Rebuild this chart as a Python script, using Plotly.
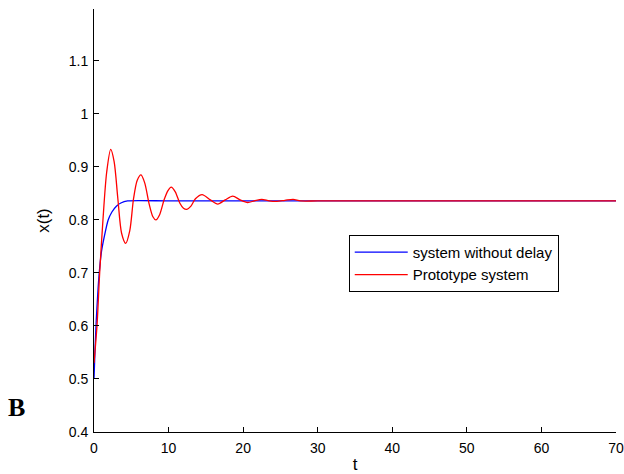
import plotly.graph_objects as go

# Response of the reduced (no-delay) model
t_nodelay = [0.0, 0.15, 0.3, 0.5, 0.7, 1.0, 1.4, 1.9, 2.4, 3.0, 3.6, 4.5, 10.0, 30.0, 50.0, 70.0]
x_nodelay = [0.50, 0.56, 0.61, 0.66, 0.70, 0.74, 0.77, 0.80, 0.815, 0.826, 0.832, 0.836, 0.836, 0.836, 0.836, 0.836]

# Response of the prototype system (damped oscillation)
t_proto = [0.0, 0.4, 0.76, 1.2, 1.7, 2.24, 2.7, 3.2, 3.7, 4.25, 4.8, 5.3, 5.8, 6.3, 6.8,
           7.4, 7.9, 8.3, 8.8, 9.4, 9.9, 10.35, 10.9, 11.5, 12.0, 12.45, 13.0, 13.6,
           14.5, 15.6, 16.6, 17.6, 18.6, 19.6, 20.6, 21.5, 22.5, 23.5, 24.5, 25.6,
           26.7, 27.7, 30.0, 40.0, 50.0, 60.0, 70.0]
x_proto = [0.53, 0.60, 0.70, 0.80, 0.89, 0.933, 0.91, 0.84, 0.775, 0.756, 0.78, 0.84, 0.875,
           0.885, 0.87, 0.83, 0.806, 0.800, 0.810, 0.838, 0.855, 0.862, 0.853, 0.832,
           0.822, 0.820, 0.826, 0.840, 0.848, 0.838, 0.830, 0.838, 0.845, 0.838, 0.833,
           0.836, 0.839, 0.836, 0.835, 0.837, 0.839, 0.836, 0.836, 0.836, 0.836, 0.836, 0.836]

x_ticks = [0, 10, 20, 30, 40, 50, 60, 70]
y_ticks = [0.4, 0.5, 0.6, 0.7, 0.8, 0.9, 1.0, 1.1]
y_tick_text = ["0.4", "0.5", "0.6", "0.7", "0.8", "0.9", "1", "1.1"]

font_family = "Liberation Sans, Arial, sans-serif"

fig = go.Figure()
fig.add_trace(go.Scatter(x=t_nodelay, y=x_nodelay, mode="lines", name="system without delay",
                         line=dict(color="#0000ff", width=1.3, shape="spline", smoothing=0.6)))
fig.add_trace(go.Scatter(x=t_proto, y=x_proto, mode="lines", name="Prototype system",
                         line=dict(color="#ff0000", width=1.3, shape="spline", smoothing=0.8)))

fig.update_layout(
    width=624, height=474,
    margin=dict(l=94, r=8, t=9, b=42, autoexpand=False),
    paper_bgcolor="white", plot_bgcolor="white",
    font=dict(family=font_family, size=14, color="black"),
    showlegend=True,
    legend=dict(x=0.488, y=0.466, xanchor="left", yanchor="top",
                bordercolor="black", borderwidth=1, bgcolor="white",
                font=dict(size=15), itemwidth=53, tracegroupgap=0),
    annotations=[dict(text="<b>B</b>", x=(16 - 94) / 522, y=(432 - 407) / 423,
                      xref="paper", yref="paper", xanchor="center", yanchor="middle",
                      showarrow=False,
                      font=dict(family="Liberation Serif, Times New Roman, serif", size=26))],
)

fig.update_xaxes(range=[0, 70], tickvals=x_ticks, ticks="inside", ticklen=5, tickcolor="black",
                 showline=True, linecolor="black", linewidth=1, showgrid=False, zeroline=False,
                 automargin=False, ticklabelstandoff=3,
                 title=dict(text="t", standoff=4), tickfont=dict(size=14))
fig.update_yaxes(range=[0.4, 1.198], tickvals=y_ticks, ticktext=y_tick_text,
                 ticks="inside", ticklen=5, tickcolor="black",
                 showline=True, linecolor="black", linewidth=1, showgrid=False, zeroline=False,
                 automargin=False, ticklabelstandoff=2,
                 title=dict(text="x(t)", standoff=14), tickfont=dict(size=14))

fig.write_html("out.html")
